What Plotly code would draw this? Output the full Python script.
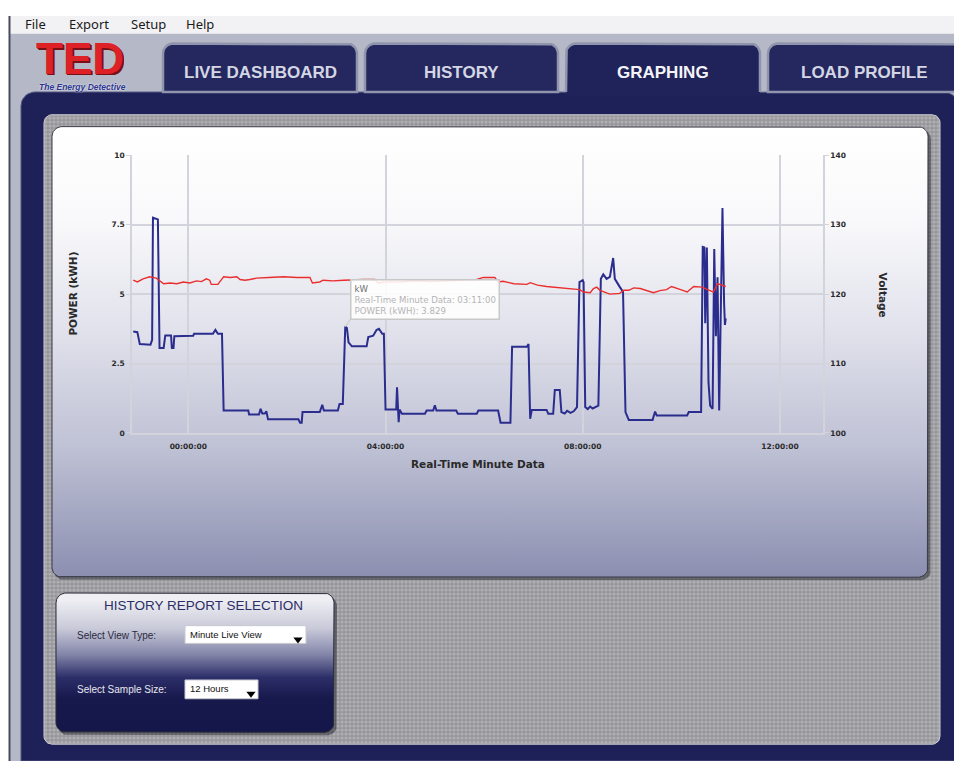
import numpy as np
import plotly.graph_objects as go

# ---------------- data ----------------
power_times = ["22:53", "22:58", "23:01", "23:14", "23:16", "23:17", "23:23", "23:25", "23:30", "23:32",
               "23:39", "23:40", "23:42", "23:43", "00:06", "00:07", "00:30", "00:33", "00:36", "00:41",
               "00:43", "01:13", "01:14", "01:26", "01:28", "01:30", "01:33", "01:35", "01:37", "02:14",
               "02:16", "02:18", "02:19", "02:40", "02:43", "02:45", "03:02", "03:04", "03:08", "03:10",
               "03:11", "03:13", "03:15", "03:19", "03:37", "03:39", "03:45", "03:49", "03:52", "03:56",
               "03:58", "04:00", "04:13", "04:14", "04:15", "04:16", "04:17", "04:20", "04:48", "04:50",
               "04:58", "05:00", "05:02", "05:26", "05:28", "05:51", "05:53", "06:17", "06:20", "06:32",
               "06:34", "06:52", "06:54", "06:56", "06:58", "07:16", "07:18", "07:24", "07:26", "07:32",
               "07:34", "07:38", "07:41", "07:45", "07:49", "07:53", "07:56", "08:00", "08:01", "08:03",
               "08:06", "08:09", "08:12", "08:16", "08:19", "08:22", "08:25", "08:29", "08:33", "08:37",
               "08:39", "08:45", "08:49", "08:52", "08:56", "09:25", "09:28", "09:30", "10:07", "10:09",
               "10:24", "10:26", "10:28", "10:29", "10:31", "10:33", "10:35", "10:38", "10:40", "10:42",
               "10:44", "10:46", "10:48", "10:50", "10:52", "10:53", "10:54"]
power_kw = [3.65, 3.63, 3.20, 3.18, 3.35, 7.75, 7.69, 3.06, 3.06, 3.51,
            3.51, 3.06, 3.06, 3.48, 3.50, 3.57, 3.57, 3.71, 3.57, 3.57,
            0.81, 0.81, 0.66, 0.66, 0.87, 0.70, 0.70, 0.78, 0.49, 0.49,
            0.37, 0.37, 0.75, 0.75, 1.01, 0.81, 0.81, 1.04, 1.04, 3.70,
            3.829, 3.78, 3.26, 3.12, 3.12, 3.45, 3.50, 3.71, 3.75, 3.57,
            3.57, 0.84, 0.84, 1.64, 0.84, 0.39, 0.84, 0.69, 0.69, 0.81,
            0.81, 1.00, 0.81, 0.81, 0.69, 0.69, 0.81, 0.81, 0.37, 0.37,
            3.10, 3.10, 3.20, 0.51, 0.83, 0.83, 0.69, 0.69, 1.55, 1.55,
            0.75, 0.70, 0.80, 0.72, 0.78, 0.93, 5.43, 5.50, 5.43, 0.93,
            0.86, 0.95, 0.88, 0.95, 0.98, 5.55, 5.71, 5.55, 5.62, 6.30,
            5.55, 5.26, 5.08, 0.75, 0.47, 0.47, 0.77, 0.63, 0.63, 0.75,
            0.75, 6.70, 6.68, 3.95, 6.68, 1.81, 0.98, 0.87, 6.62, 3.48,
            5.61, 0.81, 4.00, 8.10, 4.66, 3.89, 4.13]

volt_times = ["22:53", "22:58", "23:05", "23:13", "23:21", "23:26", "23:30", "23:38", "23:46", "23:54",
              "00:02", "00:10", "00:16", "00:22", "00:26", "00:28", "00:36", "00:41", "00:43", "00:51",
              "00:59", "01:03", "01:09", "01:15", "01:23", "01:38", "01:56", "02:12", "02:28", "02:31",
              "02:40", "02:44", "02:56", "03:09", "03:21", "03:33", "03:47", "03:51", "03:57", "04:07",
              "04:17", "04:28", "04:38", "04:55", "05:18", "05:35", "05:51", "05:59", "06:13", "06:17",
              "06:23", "06:36", "06:52", "06:56", "07:05", "07:16", "07:26", "07:36", "07:46", "07:56",
              "08:01", "08:09", "08:13", "08:17", "08:21", "08:27", "08:33", "08:45", "08:50", "08:56",
              "09:02", "09:10", "09:18", "09:26", "09:34", "09:42", "09:48", "09:54", "10:00", "10:07",
              "10:15", "10:25", "10:32", "10:39", "10:44", "10:49", "10:54"]
volt_v = [122.0, 121.75, 122.2, 122.5, 122.3, 121.9, 121.5, 121.6, 121.5, 121.75,
          121.6, 121.9, 121.8, 122.2, 122.0, 121.4, 121.4, 122.2, 122.5, 122.4,
          122.5, 122.1, 122.0, 122.1, 122.3, 122.4, 122.5, 122.4, 122.4, 121.6,
          121.75, 122.0, 121.9, 122.0, 122.1, 122.1, 122.1, 121.6, 121.7, 121.8,
          121.75, 121.8, 121.9, 121.8, 121.9, 122.0, 122.1, 122.4, 122.4, 121.75,
          121.85, 121.5, 121.4, 121.65, 121.3, 121.1, 121.0, 120.8, 120.8, 120.65,
          120.3, 120.2, 120.8, 121.0, 120.55, 120.3, 120.0, 120.1, 120.55, 120.55,
          120.9, 120.8, 120.55, 120.2, 120.5, 120.65, 121.1, 120.8, 120.6, 120.3,
          121.1, 121.0, 120.7, 120.3, 121.5, 121.3, 121.1]

power_ticks = [0, 2.5, 5, 7.5, 10]
power_tick_text = ["0", "2.5", "5", "7.5", "10"]
volt_ticks = [100, 110, 120, 130, 140]

tip_time = "03:11"
tip_value = 3.829

tabs = ["LIVE DASHBOARD", "HISTORY", "GRAPHING", "LOAD PROFILE"]
menu_items = ["File", "Export", "Setup", "Help"]

DAY1, DAY2 = "2012-03-05", "2012-03-06"


def to_dt(hm):
    return (DAY1 if int(hm[:2]) >= 18 else DAY2) + " " + hm + ":00"


# page is 962x766; the page body has an 8px margin, so the figure starts at (8, 8)
PW, PH = 962, 766
OFF = 8
W, H = PW - OFF, PH - OFF
fig = go.Figure()


def rr(x0, y0, x1, y1, r=(0, 0, 0, 0), n=10):
    tl, tr, br, bl = r
    xs, ys = [], []

    def arc(cx, cy, rad, a0, a1):
        if rad <= 0:
            xs.append(cx); ys.append(cy); return
        for a in np.linspace(a0, a1, n):
            xs.append(cx + rad * np.cos(a)); ys.append(cy + rad * np.sin(a))
    arc(x0 + tl, y0 + tl, tl, np.pi, 1.5 * np.pi)
    arc(x1 - tr, y0 + tr, tr, 1.5 * np.pi, 2 * np.pi)
    arc(x1 - br, y1 - br, br, 0, 0.5 * np.pi)
    arc(x0 + bl, y1 - bl, bl, 0.5 * np.pi, np.pi)
    xs.append(xs[0]); ys.append(ys[0])
    return xs, ys


def shape_tr(xy, fill=None, line_color=None, line_width=0, **kw):
    xs, ys = xy
    d = dict(x=xs, y=ys, xaxis="x", yaxis="y", mode="lines", hoverinfo="skip", showlegend=False,
             line=dict(color=line_color or "rgba(0,0,0,0)", width=line_width))
    if fill is not None:
        d["fill"] = "toself"
        d["fillcolor"] = fill
    d.update(kw)
    fig.add_trace(go.Scatter(**d))


# ---------------- window chrome ----------------
shape_tr(rr(8, 12, PW, 30), fill="#f2f2f4")
shape_tr(rr(10, 30, PW, PH), fill="#b5b8c7")
fig.add_trace(go.Scatter(x=[9.5, 9.5], y=[12, PH], xaxis="x", yaxis="y", mode="lines",
                         line=dict(color="#4a4c5e", width=2), hoverinfo="skip", showlegend=False))

# main navy panel
shape_tr(rr(21, 89, 958, PH, (14, 14, 0, 0)), fill="#1e2158", line_color="#50547f", line_width=1)

# tabs
tab_x = [(163, 357), (365, 558), (566, 760), (768, 960)]
for i, (a, b) in enumerate(tab_x):
    if i == 2:
        shape_tr(rr(a, 40, b, 93, (10, 10, 0, 0)), fill="#1f2359")
        xs, ys = rr(a, 40, b, 89, (10, 10, 0, 0))
        k = 2 * 10
        fig.add_trace(go.Scatter(x=[a] + xs[:k] + [b], y=[89] + ys[:k] + [89], xaxis="x", yaxis="y",
                                 mode="lines", line=dict(color="#9094ac", width=2.5),
                                 hoverinfo="skip", showlegend=False))
    else:
        shape_tr(rr(a, 40, b, 89, (10, 10, 0, 0)), fill="#24285f", line_color="#9094ac", line_width=2.5)

# textured area
shape_tr(rr(44, 112, 940, 749, (8, 8, 8, 8)), fill="#98989c", line_color="#cfcfd3", line_width=1,
         fillpattern=dict(shape=".", bgcolor="#96969a", fgcolor="#c8c8cc", size=4, solidity=0.5))

# chart panel
shape_tr(rr(54, 127, 931, 583, (10, 10, 10, 10)), fill="rgba(20,20,30,0.45)")
shape_tr(rr(52, 124, 928, 580, (10, 10, 10, 10)), fill="#ffffff", line_color="#3a3a48", line_width=1,
         fillgradient=dict(type="vertical", start=124, stop=580,
                           colorscale=[[0, "#ffffff"], [0.2, "#f9f9fb"], [0.45, "#e0e1eb"],
                                       [0.7, "#bfc1d5"], [1, "#898cae"]]))

# history panel
shape_tr(rr(58, 599, 337, 740, (10, 10, 10, 10)), fill="rgba(20,20,30,0.45)")
shape_tr(rr(56, 596, 334, 737, (10, 10, 10, 10)), fill="#1a1b50", line_color="#2a2a3a", line_width=1,
         fillgradient=dict(type="vertical", start=596, stop=737,
                           colorscale=[[0, "#eeeef3"], [0.2, "#c9cad9"], [0.38, "#8688ab"],
                                       [0.55, "#2c2e69"], [0.7, "#17184b"], [1, "#141548"]]))
# dropdowns
shape_tr(rr(185, 629, 306, 647), fill="#ffffff", line_color="#c8c8d0", line_width=1)
shape_tr(rr(185, 684, 258, 703), fill="#ffffff", line_color="#c8c8d0", line_width=1)
fig.add_trace(go.Scatter(x=[298, 251], y=[643, 698], xaxis="x", yaxis="y", mode="markers",
                         marker=dict(symbol="triangle-down", size=8, color="#000000"),
                         hoverinfo="skip", showlegend=False))

# ---------------- chart ----------------
fig.add_trace(go.Scatter(x=[to_dt(t) for t in volt_times], y=volt_v, xaxis="x2", yaxis="y3",
                         mode="lines", name="Voltage", line=dict(color="#ea2e2e", width=1.4),
                         showlegend=False))
fig.add_trace(go.Scatter(x=[to_dt(t) for t in power_times], y=power_kw, xaxis="x2", yaxis="y2",
                         mode="lines", name="kW", line=dict(color="#2b2d8e", width=2),
                         showlegend=False))

grid = "#d3d3db"
tickfont = dict(family="DejaVu Sans", size=7.5, color="#2a2a2a", weight="bold")

ann = []


def text(x, y, s, size, color, family="Liberation Sans", weight="normal", xanchor="center",
         yanchor="middle", angle=0, style="normal", shadow="none", **kw):
    d = dict(x=x, y=y, xref="x", yref="y", text=s, showarrow=False, xanchor=xanchor,
             yanchor=yanchor, textangle=angle,
             font=dict(family=family, size=size, color=color, weight=weight, style=style,
                       shadow=shadow))
    d.update(kw)
    ann.append(d)


for s, x in zip(menu_items, [23, 67, 129, 184]):
    text(x, 20, s, 13, "#1a1a1a", family="Noto Sans", xanchor="left")

# logo
text(80, 54.5, "TED", 44, "#de2027", weight="bold", height=34, valign="middle", borderpad=0,
     shadow="1px 1px 0px #7a1015, 2px 2px 0px #7a1015")
text(82, 84.3, "The Energy Detective", 8.5, "#2b3590", weight="bold", style="italic",
     shadow="0px 0px 2px #ffffff", borderpad=0)

for s, (a, b) in zip(tabs, tab_x):
    text((a + b) / 2, 69, s, 17, "#f4f4f8" if s == "GRAPHING" else "#d4d6e4", weight="bold")

text(203, 609, "HISTORY REPORT SELECTION", 13.5, "#2b2e66")
text(75, 639, "Select View Type:", 10, "#2a2a40", xanchor="left")
text(188, 638, "Minute Live View", 9.5, "#111111", xanchor="left")
text(75, 694, "Select Sample Size:", 10, "#e8e8f0", xanchor="left")
text(188, 693, "12 Hours", 9.5, "#111111", xanchor="left")

# axis titles
text(73, 293, "POWER (kWH)", 10.5, "#2a2a2a", family="DejaVu Sans", weight="bold", angle=-90)
text(883, 294, "Voltage", 10.5, "#2a2a2a", family="DejaVu Sans", weight="bold", angle=90)
text(478, 465, "Real-Time Minute Data", 10.5, "#2a2a2a", family="DejaVu Sans", weight="bold")

# tooltip
ann.append(dict(x=to_dt(tip_time), y=tip_value, xref="x2", yref="y2",
                text=("<span style='color:#6f6f6f'>kW</span><br>"
                      "Real-Time Minute Data: " + tip_time + ":00<br>"
                      "POWER (kWH): " + str(tip_value)),
                showarrow=True, arrowhead=0, arrowwidth=1.5, arrowcolor="#d0d0d0",
                ax=5, ay=-7, xanchor="left", yanchor="bottom", align="left",
                bgcolor="rgba(255,255,255,0.88)", bordercolor="#c8c8c8", borderwidth=1.5, borderpad=3,
                font=dict(family="DejaVu Sans", size=8.6, color="#b4b4b4")))

fig.update_layout(
    width=W, height=H, margin=dict(l=0, r=0, t=0, b=0),
    paper_bgcolor="#ffffff", plot_bgcolor="rgba(0,0,0,0)",
    showlegend=False, annotations=ann,
    xaxis=dict(domain=[0, 1], range=[OFF, PW], visible=False, fixedrange=True),
    yaxis=dict(domain=[0, 1], range=[PH, OFF], visible=False, fixedrange=True),
    xaxis2=dict(domain=[(132 - OFF) / W, (823 - OFF) / W], anchor="y2", type="date",
                range=[DAY1 + " 22:51:30", DAY2 + " 12:52:20"],
                tickformat="%H:%M:%S", dtick=4 * 3600 * 1000, tick0=DAY2 + " 00:00:00",
                showgrid=True, gridcolor=grid, gridwidth=1.5, showline=True, linecolor=grid,
                linewidth=1.5, ticks="outside", ticklen=5, tickcolor="rgba(0,0,0,0)",
                tickfont=tickfont, zeroline=False),
    yaxis2=dict(domain=[(PH - 434) / H, (PH - 153) / H], anchor="x2", range=[0, 10],
                tickvals=power_ticks, ticktext=power_tick_text, showgrid=True, gridcolor=grid,
                gridwidth=1.5, showline=True, linecolor=grid, linewidth=1.5, ticks="outside",
                ticklen=4, tickcolor=grid, tickfont=tickfont, zeroline=False),
    yaxis3=dict(overlaying="y2", anchor="x2", side="right", range=[100, 140], tickvals=volt_ticks,
                showgrid=False, showline=True, linecolor=grid, linewidth=1.5, ticks="outside",
                ticklen=4, tickcolor=grid, tickfont=tickfont, zeroline=False),
)

fig.write_html("out.html", config={"displayModeBar": False})
